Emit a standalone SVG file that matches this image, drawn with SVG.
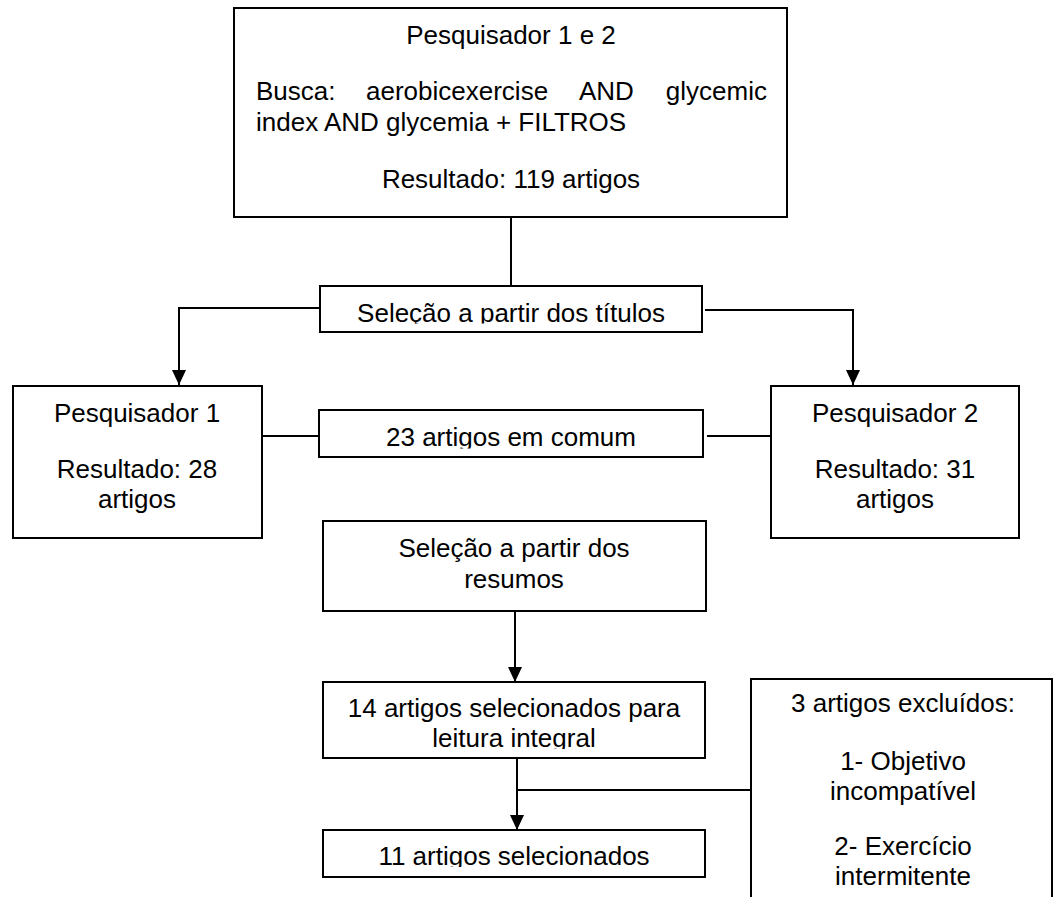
<svg xmlns="http://www.w3.org/2000/svg" width="1061" height="897" viewBox="0 0 1061 897">
<style>
.box{fill:#fff;stroke:#000;stroke-width:2}
.ln{fill:none;stroke:#000;stroke-width:2}
.t{font-family:"Liberation Sans",Arial,sans-serif;font-size:26px;fill:#000}
.c{text-anchor:middle}
.e{text-anchor:end}
</style>
<defs>
<marker id="arr" markerUnits="userSpaceOnUse" markerWidth="16" markerHeight="14" refX="15" refY="7" orient="auto" viewBox="0 0 16 14">
<path d="M0,0 L15,7 L0,14 Z" fill="#000"/>
</marker>
<clipPath id="clipSel"><rect x="320" y="286" width="382" height="37.5"/></clipPath>
<clipPath id="clip23"><rect x="319" y="410" width="384" height="38.5"/></clipPath>
<clipPath id="clip14"><rect x="323" y="682" width="382" height="67"/></clipPath>
<clipPath id="clip11"><rect x="323" y="830" width="382" height="37"/></clipPath>
</defs>
<rect width="1061" height="897" fill="#fff"/>
<g id="connectors">
<path class="ln" d="M511,217 V286"/>
<path class="ln" d="M320,308 H179 V385" marker-end="url(#arr)"/>
<path class="ln" d="M705,310 H853 V385" marker-end="url(#arr)"/>
<path class="ln" d="M262,436 H319"/>
<path class="ln" d="M707,436 H771"/>
<path class="ln" d="M515,611 V682" marker-end="url(#arr)"/>
<path class="ln" d="M517,758 V830" marker-end="url(#arr)"/>
<path class="ln" d="M517,790 H751"/>
</g>
<g id="n-top">
<rect class="box" x="234" y="8" width="553" height="209"/>
<text class="t c" x="511" y="44">Pesquisador 1 e 2</text>
<text class="t" x="256" y="100">Busca:</text>
<text class="t" x="366" y="100">aerobicexercise</text>
<text class="t" x="579" y="100">AND</text>
<text class="t e" x="767" y="100">glycemic</text>
<text class="t" x="256" y="131">index AND glycemia + FILTROS</text>
<text class="t c" x="511" y="188">Resultado: 119 artigos</text>
</g>
<g id="n-titulos">
<rect class="box" x="320" y="286" width="382" height="46"/>
<text class="t c" x="511" y="322" clip-path="url(#clipSel)">Seleção a partir dos títulos</text>
</g>
<g id="n-p1">
<rect class="box" x="13" y="386" width="249" height="152"/>
<text class="t c" x="137" y="422">Pesquisador 1</text>
<text class="t c" x="137" y="478">Resultado: 28</text>
<text class="t c" x="137" y="508">artigos</text>
</g>
<g id="n-comum">
<rect class="box" x="319" y="410" width="384" height="47"/>
<text class="t c" x="511" y="446" clip-path="url(#clip23)">23 artigos em comum</text>
</g>
<g id="n-p2">
<rect class="box" x="771" y="386" width="248" height="152"/>
<text class="t c" x="895" y="422">Pesquisador 2</text>
<text class="t c" x="895" y="478">Resultado: 31</text>
<text class="t c" x="895" y="508">artigos</text>
</g>
<g id="n-resumos">
<rect class="box" x="323" y="521" width="383" height="90"/>
<text class="t c" x="514" y="557">Seleção a partir dos</text>
<text class="t c" x="514" y="588">resumos</text>
</g>
<g id="n-14">
<rect class="box" x="323" y="682" width="382" height="76"/>
<text class="t c" clip-path="url(#clip14)"><tspan x="514" y="717">14 artigos selecionados para</tspan><tspan x="514" y="747">leitura integral</tspan></text>
</g>
<g id="n-11">
<rect class="box" x="323" y="830" width="382" height="47"/>
<text class="t c" x="514" y="865" clip-path="url(#clip11)">11 artigos selecionados</text>
</g>
<g id="n-excl">
<rect class="box" x="751" y="679" width="301" height="240"/>
<text class="t c" x="903" y="712">3 artigos excluídos:</text>
<text class="t c" x="903" y="770">1- Objetivo</text>
<text class="t c" x="903" y="800">incompatível</text>
<text class="t c" x="903" y="855">2- Exercício</text>
<text class="t c" x="903" y="885">intermitente</text>
</g>
</svg>
